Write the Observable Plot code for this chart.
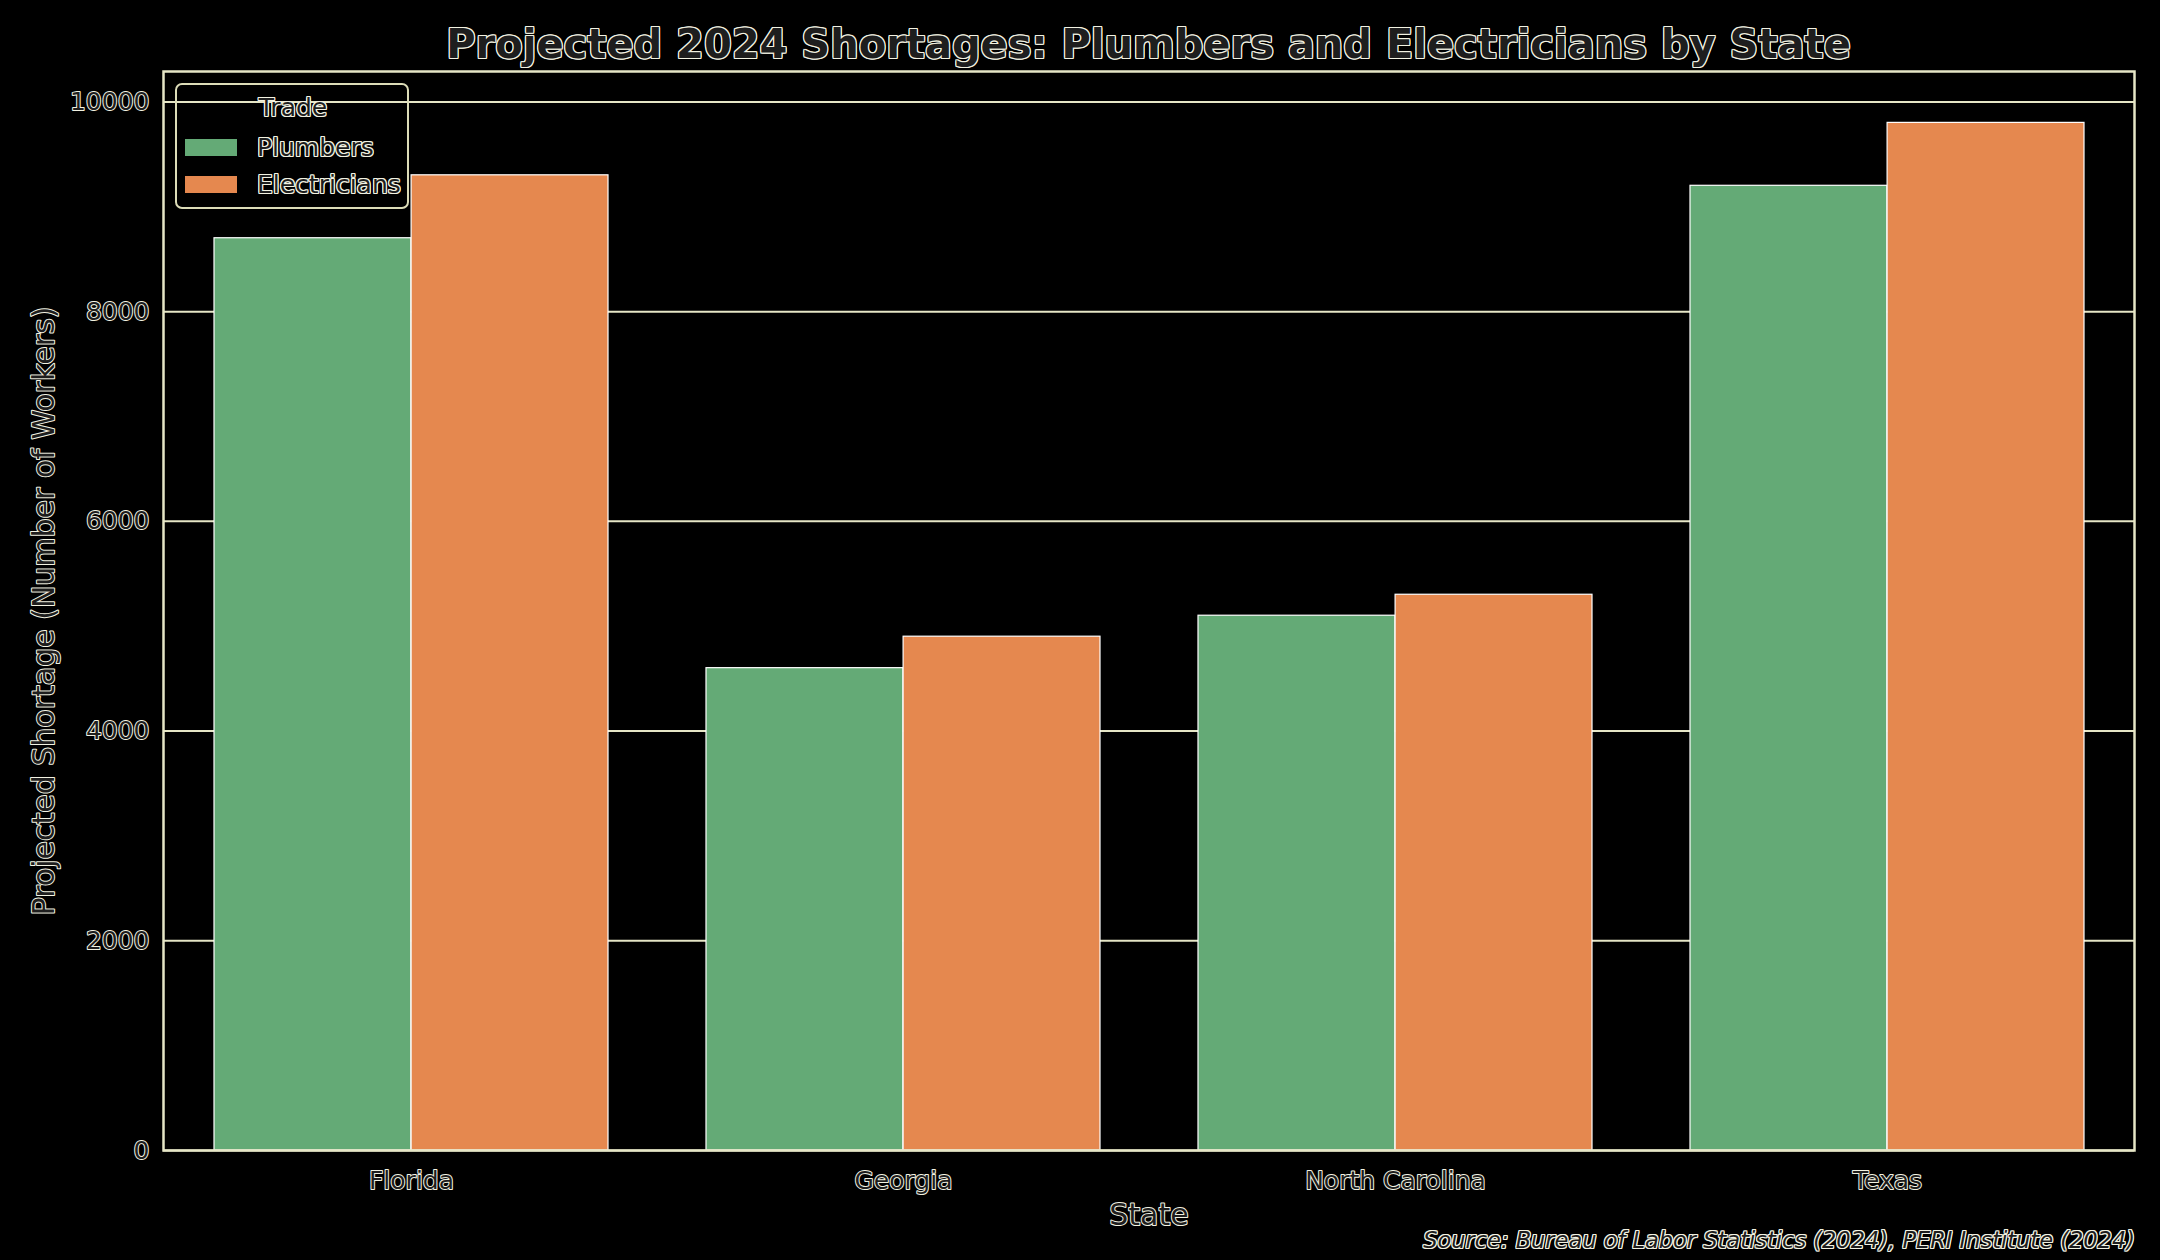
<!DOCTYPE html>
<html>
<head>
<meta charset="utf-8">
<script src="https://cdn.jsdelivr.net/npm/d3@7"></script>
<script src="https://cdn.jsdelivr.net/npm/@observablehq/plot@0.6"></script>
<style>
  html, body { margin: 0; padding: 0; background: #000; }
  body { width: 2160px; height: 1260px; position: relative; overflow: hidden; font-family: "DejaVu Sans", sans-serif; }
  .halo { color: #1e1e1e; text-shadow: 1px 0 0 #f2f2e2, -1px 0 0 #f2f2e2, 0 1px 0 #f2f2e2, 0 -1px 0 #f2f2e2, 1px 1px 0 #f2f2e2, -1px -1px 0 #f2f2e2, 1px -1px 0 #f2f2e2, -1px 1px 0 #f2f2e2; }
  #title { position: absolute; left: 0; top: 19px; width: 2297px; line-height: 50px; font-size: 40px; font-weight: bold; text-align: center; }
  #chart { position: absolute; left: 0; top: 69px; }
  #caption { position: absolute; right: 25px; top: 1226px; font-size: 22.5px; font-style: italic; line-height: 28px; }
  #legend { position: absolute; left: 175px; top: 83px; width: 230px; height: 122px; border: 2px solid #dcdcb8; border-radius: 7px; font-size: 25px; }
  #legend .ttl { position: absolute; left: 0; width: 232px; top: 8px; text-align: center; line-height: 30px; }
  #legend .row { position: absolute; left: 8px; height: 30px; line-height: 30px; }
  #legend .sw { position: absolute; left: 0; top: 6px; width: 52px; height: 17px; }
  #legend .lab { position: absolute; left: 72px; white-space: nowrap; }
  svg text { paint-order: stroke; stroke: #f2f2e2; stroke-width: 2px; stroke-linejoin: round; }
</style>
</head>
<body>
<div id="title" class="halo">Projected 2024 Shortages: Plumbers and Electricians by State</div>
<div id="chart"></div>
<div id="legend" class="halo"></div>
<div id="caption" class="halo">Source: Bureau of Labor Statistics (2024), PERI Institute (2024)</div>
<script>
// ---- data ----
const states = ["Florida", "Georgia", "North Carolina", "Texas"];
const trades = ["Plumbers", "Electricians"];
const plumbers = [8700, 4600, 5100, 9200];
const electricians = [9300, 4900, 5300, 9800];
const yTicks = [0, 2000, 4000, 6000, 8000, 10000];
const colors = ["#64aa76", "#e5884f"];

const rowsP = states.map((s, i) => ({state: s, trade: "Plumbers", value: plumbers[i]}));
const rowsE = states.map((s, i) => ({state: s, trade: "Electricians", value: electricians[i]}));

const W = 2160, H = 1157;
const mL = 163, mR = 26, mT = 2, mB = 76;
const step = (W - mL - mR) / states.length;
const half = 0.8 * step / 2;
const cream = "#e6e6c6";

const chart = Plot.plot({
  width: W,
  height: H,
  marginLeft: mL,
  marginRight: mR,
  marginTop: mT,
  marginBottom: mB,
  style: {background: "transparent", color: "#1e1e1e", fontFamily: "DejaVu Sans, sans-serif", fontSize: "25px", overflow: "visible"},
  x: {domain: states, paddingInner: 0.2, paddingOuter: 0.1, label: "State", labelAnchor: "center", labelOffset: 74, tickSize: 0, tickPadding: 21},
  y: {domain: [0, 10290], ticks: yTicks, tickFormat: d => String(d), label: "Projected Shortage (Number of Workers)", labelAnchor: "center", labelOffset: 131, tickSize: 0, tickPadding: 14},
  color: {domain: trades, range: colors},
  marks: [
    Plot.ruleY(yTicks, {stroke: cream, strokeWidth: 2}),
    Plot.barY(rowsP, {x: "state", y: "value", fill: "trade", stroke: "#ffffff", strokeWidth: 1.2, insetRight: half}),
    Plot.barY(rowsE, {x: "state", y: "value", fill: "trade", stroke: "#ffffff", strokeWidth: 1.2, insetLeft: half}),
    Plot.frame({stroke: cream, strokeWidth: 2.5})
  ]
});
document.getElementById("chart").appendChild(chart);
chart.querySelectorAll("text").forEach(t => t.setAttribute("fill", "#1e1e1e"));
chart.querySelectorAll('g[aria-label="y-axis label"] text, g[aria-label="x-axis label"] text').forEach(t => {
  t.textContent = t.textContent.replace(/\s*[↑→↓←]\s*/g, "").trim();
  t.style.fontSize = "30px";
});

// legend
const leg = document.getElementById("legend");
leg.innerHTML = `<div class="ttl">Trade</div>` + trades.map((t, i) =>
  `<div class="row" style="top:${48 + i * 37}px"><div class="sw" style="background:${colors[i]}"></div><div class="lab">${t}</div></div>`).join("");
</script>
</body>
</html>
